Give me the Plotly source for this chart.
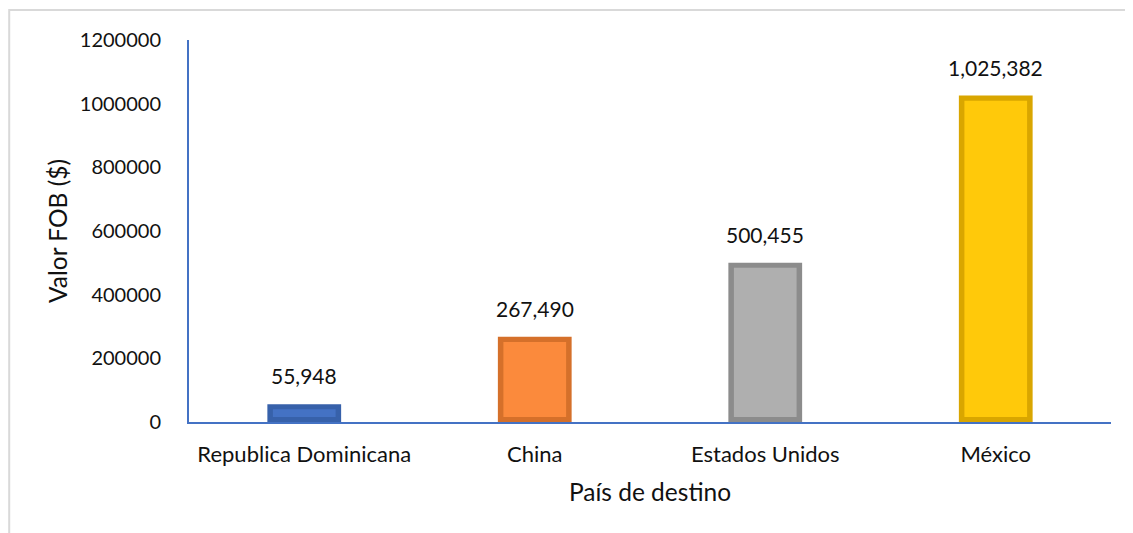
import plotly.graph_objects as go

# Datos: valor FOB por país de destino
paises = ["Republica Dominicana", "China", "Estados Unidos", "México"]
valor_fob = [55948, 267490, 500455, 1025382]
color_cara = ["#4472C4", "#FB8A3C", "#AFAFAF", "#FFC90A"]
color_marco = ["#3761AA", "#D5702A", "#8C8C8C", "#D9A600"]

fuente = "Lato, 'Open Sans', sans-serif"
negro = "#111111"

# grosor del bisel en unidades del eje y
bisel = 16000
cara_base = [bisel for v in valor_fob]
cara_alto = [max(v - 2 * bisel, 0) for v in valor_fob]

fig = go.Figure()

# marco más oscuro (imita el bisel de Excel)
fig.add_trace(go.Bar(
    x=paises, y=valor_fob,
    width=0.32,
    marker=dict(color=color_marco, line=dict(width=0)),
    hoverinfo="skip",
))

# cara de la barra
fig.add_trace(go.Bar(
    x=paises, y=cara_alto, base=cara_base,
    width=0.272,
    marker=dict(color=color_cara, line=dict(width=0)),
    customdata=valor_fob,
    hovertemplate="%{x}: %{customdata:,}<extra></extra>",
))

# etiquetas de datos
for p, v in zip(paises, valor_fob):
    fig.add_annotation(
        x=p, y=v, text=f"{v:,}", showarrow=False,
        yanchor="bottom", yshift=14,
        font=dict(size=21, color=negro, family=fuente),
    )

fig.update_layout(
    barmode="overlay",
    width=1125, height=525,
    margin=dict(l=181, r=22, t=32, b=111, autoexpand=False),
    paper_bgcolor="white",
    plot_bgcolor="white",
    showlegend=False,
    font=dict(family=fuente, size=20, color=negro),
)

fig.update_xaxes(
    showline=True, linecolor="#4472C4", linewidth=2,
    showgrid=False, ticks="", automargin=False,
    tickfont=dict(size=22),
    ticklabelstandoff=12,
    title=dict(text="País de destino", font=dict(size=24.5), standoff=17),
)
fig.update_yaxes(
    range=[0, 1200000], dtick=200000, tickformat="d",
    showline=True, linecolor="#4472C4", linewidth=2,
    showgrid=False, zeroline=False, ticks="", automargin=False,
    tickfont=dict(size=20),
    ticklabelstandoff=22,
    title=dict(text="Valor FOB ($)", font=dict(size=24.5), standoff=5),
)

# borde exterior del gráfico
fig.add_shape(
    type="rect", xref="paper", yref="paper",
    x0=-0.195, x1=1.05, y0=-0.35, y1=1.0785,
    line=dict(color="#D9D9D9", width=2), layer="below",
)

fig.write_html("out.html")
